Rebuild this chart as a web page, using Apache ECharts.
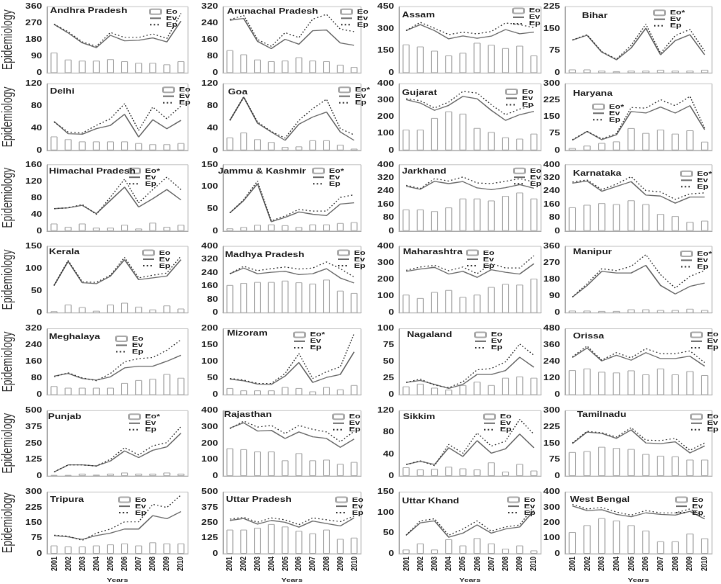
<!DOCTYPE html>
<html><head><meta charset="utf-8">
<script src="https://cdn.jsdelivr.net/npm/echarts@6/dist/echarts.min.js"></script>
<style>html,body{margin:0;padding:0;background:#fff;overflow:hidden}
#wrap{width:721px;height:584px;overflow:hidden;position:relative}
#main{width:721px;height:811px;transform:scaleY(0.72);transform-origin:0 0}</style>
</head><body><div id="wrap"><div id="main"></div></div>
<script>
// ---------------- DATA ----------------
const years = ['2001','2002','2003','2004','2005','2006','2007','2008','2009','2010'];
const states = ['Andhra Pradesh','Arunachal Pradesh','Assam','Bihar',
  'Delhi','Goa','Gujarat','Haryana',
  'Himachal Pradesh','Jammu & Kashmir','Jarkhand','Karnataka',
  'Kerala','Madhya Pradesh','Maharashtra','Manipur',
  'Meghalaya','Mizoram','Nagaland','Orissa',
  'Punjab','Rajasthan','Sikkim','Tamilnadu',
  'Tripura','Uttar Pradesh','Uttar Khand','West Bengal'];
const eoNames = ['Eo','Eo','Eo','Eo*',
  'Eo','Eo*','Eo','Eo*',
  'Eo*','Eo*','Eo','Eo*',
  'Eo','Eo','Eo','Eo*',
  'Eo','Eo*','Eo','Eo',
  'Eo*','Eo','Eo','Eo',
  'Eo','Eo','Eo','Eo'];
const yMax  = [360,320,450,225, 120,120,400,300, 160,150,400,400, 150,400,400,360, 320,200,100,480, 500,400,120,300, 300,500,150,400];
const yStep = [ 90, 80,150, 75,  40, 40,100, 75,  40, 50, 80, 80,  50, 80,100, 90,  80, 50, 25,120, 125,100, 40, 75,  75,125, 50,100];
const eoValues = [
  [111,73,67,67,75,64,55,55,47,64],
  [110,90,65,57,60,76,60,57,40,29],
  [194,180,151,119,137,205,191,169,185,119],
  [12,12,8,6,8,8,11,8,8,11],
  [25,20,16,16,16,16,13,11,11,13],
  [23,32,20,15,6,7,18,18,10,3],
  [124,124,194,234,220,134,110,78,70,100],
  [10,21,33,40,100,78,93,75,90,39],
  [18,10,18,8,8,15,6,20,10,15],
  [6,9,14,15,13,9,15,15,18,20],
  [130,130,120,142,196,196,184,212,232,196],
  [143,158,168,162,185,162,103,90,55,62],
  [4,19,13,5,19,23,14,8,17,10],
  [168,180,186,186,194,184,176,200,134,120],
  [110,90,126,138,96,110,156,174,170,206],
  [13,13,11,11,20,20,16,16,23,16],
  [43,35,35,35,35,58,72,78,101,83],
  [21,14,14,14,24,21,11,24,17,30],
  [13,17,11,8,15,20,15,26,28,26],
  [180,192,168,163,178,149,192,149,173,144],
  [8,8,18,10,18,26,18,18,26,18],
  [170,164,150,150,96,140,96,100,74,86],
  [16,12,13,17,14,12,25,8,22,10],
  [110,114,134,129,124,101,93,90,75,75],
  [40,35,35,40,45,50,40,55,50,50],
  [195,195,210,240,220,185,165,195,120,130],
  [10,25,10,35,20,38,25,12,20,8],
  [140,185,230,215,185,150,80,80,130,100]
];
const evValues = [
  [264,218,164,138,205,175,178,191,169,282],
  [255,263,153,118,163,139,204,208,145,134],
  [288,329,288,232,252,236,250,295,266,277],
  [112,128,71,45,85,152,62,110,130,62],
  [52,30,29,39,45,65,24,55,39,54],
  [54,96,49,33,18,47,60,69,33,18],
  [304,284,240,270,324,310,240,180,214,234],
  [45,85,48,70,175,168,195,168,201,93],
  [54,56,62,42,74,106,58,78,100,75],
  [41,69,107,21,31,43,38,35,61,64],
  [270,252,300,286,298,260,250,262,280,258],
  [289,302,240,269,298,217,211,168,205,205],
  [62,116,68,66,83,120,75,79,83,120],
  [236,270,236,244,250,230,236,266,210,180],
  [250,264,274,234,250,214,260,244,234,296],
  [86,148,225,216,216,257,149,103,144,162],
  [91,104,80,72,88,131,139,139,163,192],
  [48,43,33,32,57,98,38,53,62,130],
  [19,22,16,10,16,31,31,37,57,42],
  [271,341,247,288,252,307,264,264,281,209],
  [31,85,85,77,115,192,141,197,223,328],
  [294,326,276,280,230,270,240,230,176,226],
  [21,27,21,52,36,65,42,50,77,52],
  [149,202,196,173,212,152,149,157,106,138],
  [88,82,70,88,100,120,120,185,170,205],
  [270,285,240,270,255,215,265,245,225,290],
  [45,75,80,40,50,70,50,60,65,105],
  [310,280,285,255,240,265,255,250,275,225]
];
const epValues = [
  [265,224,169,145,220,193,193,213,187,324],
  [258,278,162,129,195,171,260,283,212,200],
  [288,344,304,261,277,266,282,340,328,308],
  [112,130,73,47,94,166,67,127,148,74],
  [51,33,31,45,57,84,36,78,57,80],
  [54,96,51,34,22,54,75,92,39,28],
  [310,298,254,290,354,344,274,214,248,270],
  [48,85,52,75,193,190,228,201,243,100],
  [54,56,64,40,82,125,68,100,130,100],
  [41,71,113,23,34,49,45,45,76,82],
  [276,256,316,302,326,290,286,300,316,296],
  [295,308,250,283,328,244,236,191,224,230],
  [62,118,70,69,85,125,79,85,90,128],
  [236,280,254,266,276,264,270,306,266,216],
  [256,276,286,254,276,236,296,270,270,344],
  [86,158,239,229,252,315,207,135,198,229],
  [88,107,83,69,104,160,176,181,216,267],
  [50,45,35,35,65,125,50,70,85,185],
  [19,24,15,11,20,38,40,50,77,60],
  [276,355,252,307,269,336,300,300,319,235],
  [31,85,85,77,128,218,162,231,256,379],
  [290,336,300,310,260,310,286,270,210,274],
  [21,28,19,58,42,79,55,64,104,77],
  [152,205,199,179,222,165,163,173,118,152],
  [90,85,65,100,120,155,155,240,225,285],
  [280,295,255,290,275,235,290,275,260,305],
  [45,80,85,45,60,80,55,65,70,115],
  [320,290,300,270,250,280,265,265,290,240]
];

// ---------------- LAYOUT (reference pixel coordinates) ----------------
const S = 0.72; // vertical squeeze of the whole figure
const colLeft  = [47, 223, 399, 565];
const colRight = [188, 361, 541, 712];
const rowTop    = [6.7, 83.7, 164.7, 246.3, 328.7, 410.7, 492];
const rowBottom = [73, 150.3, 231, 313, 395, 476, 556];
const titlePos = [[50,10.7],[227,11.7],[402,15],[582,16],
  [50,91.3],[228,92],[402,93],[573,93.7],
  [49,171.3],[218,171.3],[402,171.3],[573,174],
  [49,252.3],[225,255],[403,252.3],[573,252.3],
  [49,337],[227,333.7],[407,334.7],[573,336.3],
  [48,417.3],[224,415],[403,417.3],[577,415],
  [50,500],[226,500],[402,501],[570,500]];
const legendPos = [[149,8.5],[340,8.5],[512,7.5],[653,9.5],
  [162,86.5],[338,86.5],[505,88.5],[592,103.5],
  [128,167.5],[312,167.5],[513,167.5],[680,170.5],
  [142,249.5],[337,249.5],[466,249.5],[680,250.5],
  [115,335.5],[293,331.5],[474,331.5],[690,331.5],
  [128,413.5],[332,413.5],[483,413.5],[690,413.5],
  [118,496.5],[335,496.5],[507,496.5],[675,496.5]];

const FONT = "'Liberation Sans', Arial, sans-serif";
const grids = [], xAxes = [], yAxes = [], titles = [], legends = [], series = [];
for (let i = 0; i < states.length; i++) {
  const r = Math.floor(i / 4), c = i % 4;
  grids.push({left: colLeft[c], width: colRight[c] - colLeft[c],
    top: rowTop[r] / S, height: (rowBottom[r] - rowTop[r]) / S,
    show: true, borderColor: '#c4c4c4', borderWidth: 1, backgroundColor: 'transparent'});
  xAxes.push({type: 'category', gridIndex: i, data: years,
    axisLine: {lineStyle: {color: '#aaa'}}, axisTick: {show: false},
    axisLabel: r === 6 ? {rotate: 90, interval: 0, fontSize: 9, fontWeight: 'bold', color: '#222', margin: 4, fontFamily: FONT} : {show: false},
    name: r === 6 ? 'Years' : '', nameLocation: 'middle', nameGap: 33,
    nameTextStyle: {fontSize: 8, fontWeight: 'bold', color: '#222', fontFamily: FONT}});
  yAxes.push({type: 'value', gridIndex: i, min: 0, max: yMax[i], interval: yStep[i],
    splitLine: {show: false}, axisLine: {show: true, lineStyle: {color: '#aaa'}}, axisTick: {show: false},
    axisLabel: {fontSize: 10, fontWeight: 'bold', color: '#222', margin: 5, fontFamily: FONT},
    name: c === 0 ? 'Epidemiology' : '', nameLocation: 'middle', nameGap: 32, nameRotate: 90,
    nameTextStyle: {fontSize: 14, color: '#333', fontFamily: FONT}});
  titles.push({text: states[i], left: titlePos[i][0], top: titlePos[i][1] / S - 6, padding: 0,
    textStyle: {fontSize: 10, fontWeight: 'bold', color: '#222', lineHeight: 12, fontFamily: FONT}});
  legends.push({data: [{name: eoNames[i]}, {name: 'Ev', itemStyle: {opacity: 0}}, {name: 'Ep', itemStyle: {opacity: 0}}],
    orient: 'vertical', left: legendPos[i][0], top: legendPos[i][1] / S,
    padding: 0, itemGap: 0, itemWidth: 11, itemHeight: 7, selectedMode: false,
    textStyle: {fontSize: 9, fontWeight: 'bold', color: '#222', lineHeight: 8, fontFamily: FONT}});
  series.push({type: 'bar', name: eoNames[i], xAxisIndex: i, yAxisIndex: i, data: eoValues[i],
    barWidth: '50%', itemStyle: {color: '#fff', borderColor: '#a8a8a8', borderWidth: 1}});
  series.push({type: 'line', name: 'Ev', xAxisIndex: i, yAxisIndex: i, data: evValues[i],
    symbol: 'none', lineStyle: {color: '#6a6a6a', width: 1.3}, itemStyle: {color: '#6a6a6a'}});
  series.push({type: 'line', name: 'Ep', xAxisIndex: i, yAxisIndex: i, data: epValues[i],
    symbol: 'none', lineStyle: {color: '#333', width: 1.2, type: [1.5, 2.2]}, itemStyle: {color: '#333'}});
}

const chart = echarts.init(document.getElementById('main'), null, {width: 721, height: 811});
chart.setOption({
  animation: false,
  backgroundColor: '#fff',
  textStyle: {fontFamily: FONT},
  title: titles, legend: legends, grid: grids, xAxis: xAxes, yAxis: yAxes, series: series
});
</script></body></html>
